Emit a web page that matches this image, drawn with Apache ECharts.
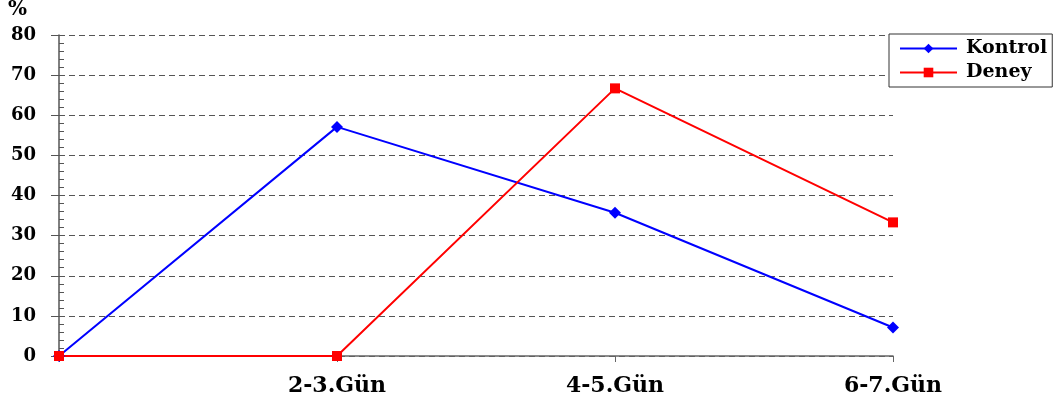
<!DOCTYPE html>
<html>
<head>
<meta charset="utf-8">
<script src="https://cdn.jsdelivr.net/npm/echarts@6/dist/echarts.min.js"></script>
<style>
  html, body { margin: 0; padding: 0; background: #fff; }
  #chart { width: 1058px; height: 407px; }
</style>
</head>
<body>
<div id="chart"></div>
<script>
// Time points (the first point is the start, left unlabeled)
const categories = ['', '2-3.Gün', '4-5.Gün', '6-7.Gün'];
// Percentages per group
const kontrol = [0, 57.1, 35.7, 7.1];
const deney = [0, 0, 66.7, 33.3];
// Value axis settings
const yMin = 0, yMax = 80, yStep = 10;

const font = '"DejaVu Serif", "Liberation Serif", serif';
const chart = echarts.init(document.getElementById('chart'));

chart.setOption({
  animation: false,
  textStyle: { fontFamily: font },
  grid: { left: 59, right: 165, top: 35, bottom: 51, containLabel: false },
  graphic: [{
    type: 'text', left: 8, top: 0,
    style: { text: '%', font: 'bold 20px ' + font, fill: '#000' }
  }],
  legend: {
    left: 889, top: 34,
    orient: 'vertical',
    backgroundColor: '#fff',
    borderColor: '#333', borderWidth: 1,
    borderRadius: 0,
    padding: [5, 5, 5, 10],
    itemGap: 5,
    itemWidth: 57, itemHeight: 12,
    textStyle: {
      fontFamily: font, fontWeight: 'bold', fontSize: 19, lineHeight: 19, color: '#000',
      padding: [0, 0, 0, 4]
    },
    data: ['Kontrol', 'Deney']
  },
  xAxis: {
    type: 'category',
    data: categories,
    boundaryGap: false,
    axisLine: { lineStyle: { color: '#666', width: 1.5 } },
    axisTick: { show: true, length: 6, alignWithLabel: true, lineStyle: { color: '#666' } },
    axisLabel: { margin: 19, fontFamily: font, fontWeight: 'bold', fontSize: 22, color: '#000' },
    splitLine: { show: false }
  },
  yAxis: [{
    type: 'value', min: yMin, max: yMax, interval: yStep,
    axisLine: { show: true, lineStyle: { color: '#555', width: 1.5 } },
    axisTick: { show: true, length: 8, lineStyle: { color: '#555' } },
    axisLabel: { margin: 23, fontFamily: font, fontWeight: 'bold', fontSize: 18, color: '#000' },
    splitLine: { show: true, lineStyle: { color: '#555', type: [6, 4], width: 1 } }
  }, {
    type: 'value', min: yMin, max: yMax, interval: yStep, position: 'left', offset: 0,
    axisLine: { show: false },
    axisTick: { show: true, inside: true, length: 3, lineStyle: { color: '#555' } },
    minorTick: { show: true, splitNumber: 5, length: 5, lineStyle: { color: '#555' } },
    axisLabel: { show: false },
    splitLine: { show: false }
  }],
  series: [{
    name: 'Kontrol', type: 'line', data: kontrol,
    symbol: 'diamond', symbolSize: 12,
    itemStyle: { color: '#0000ff' },
    lineStyle: { color: '#0000ff', width: 2 }
  }, {
    name: 'Deney', type: 'line', data: deney,
    symbol: 'rect', symbolSize: 10,
    itemStyle: { color: '#ff0000' },
    lineStyle: { color: '#ff0000', width: 2 }
  }]
});
</script>
</body>
</html>
